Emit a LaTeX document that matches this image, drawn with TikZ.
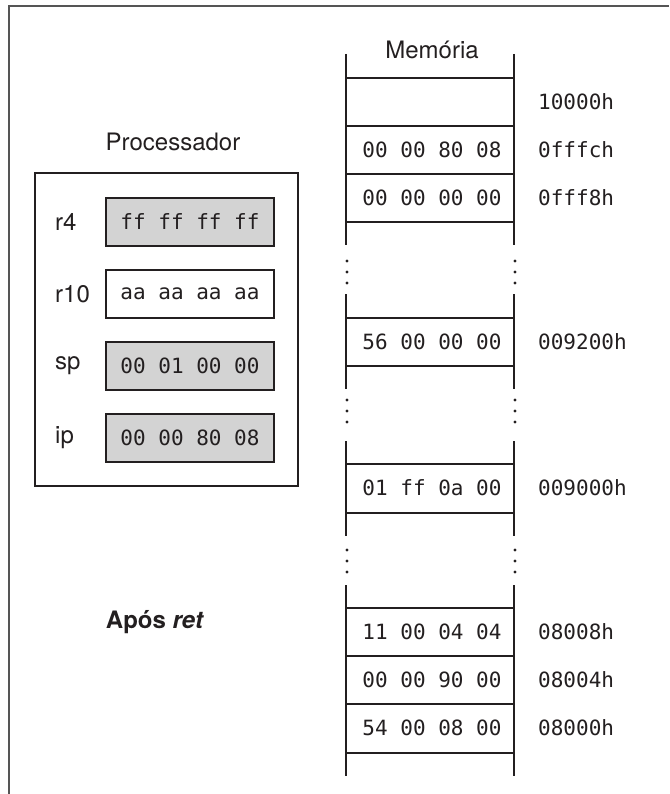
\documentclass[tikz,border=0pt]{standalone}
\usepackage{fontspec}
\setmainfont{TeX Gyre Heros}
\setmonofont{DejaVu Sans Mono}
\usepackage{tikz}
\usetikzlibrary{positioning}
\definecolor{linegray}{RGB}{35, 31, 32}
\definecolor{framegray}{RGB}{85, 85, 85}
\definecolor{regfill}{RGB}{211, 211, 211}

\tikzset{
    labeltext/.style={font=\fontsize{24}{28}\selectfont, text=linegray, inner sep=0pt},
    hextext/.style={font=\ttfamily\fontsize{21}{25}\selectfont, text=linegray, inner sep=0pt},
    regbox/.style={draw=linegray, line width=1.3pt, minimum width=168pt, minimum height=48pt, hextext},
    addrtext/.style={hextext, anchor=west},
}

\begin{document}
\begin{tikzpicture}[x=1pt, y=-1pt]
    \useasboundingbox (0,0) rectangle (669,794);
    % frame
    \draw[framegray, line width=1.2pt] (9,794) -- (9,6) -- (669,6);

    % processor
    \node[labeltext] (proc) at (173,142) {Processador};
    \draw[linegray, line width=1.6pt] (35,173) rectangle (298,486);
    \foreach \name/\val/\bg/\y in {r4/ff ff ff ff/regfill/222, r10/aa aa aa aa/white/294,
                                  sp/00 01 00 00/regfill/366, ip/00 00 80 08/regfill/438} {
        \node[regbox, fill=\bg] (reg-\name) at (190,\y) {\val};
        \node[labeltext, anchor=west] (lbl-\name) at (55,\y) {\name};
    }
    \node[labeltext] (after) at (155,622) {\bfseries Após \textit{ret}};

    % memory
    \node[labeltext] (mem) at (432,50) {Memória};
    \foreach \top/\bot in {54/245, 294/389, 441/536, 585/776}
        \draw[linegray, line width=1.8pt] (346,\top) -- (346,\bot) (514,\top) -- (514,\bot);
    \foreach \y in {78, 126, 174, 222, 318, 366, 464, 513, 608, 656, 704, 753}
        \draw[linegray, line width=1.5pt] (346,\y) -- (514,\y);
    \foreach \y in {261, 272, 283, 400, 411, 422, 550, 561, 572}
        \fill[linegray] (347,\y) circle[radius=1.6pt] (515,\y) circle[radius=1.6pt];
    \node[addrtext] (addr-10000h) at (538,102) {10000h};
    \foreach \y/\val/\addr in {150/00 00 80 08/0fffch, 198/00 00 00 00/0fff8h,
                               342/56 00 00 00/009200h, 488/01 ff 0a 00/009000h,
                               632/11 00 04 04/08008h, 680/00 00 90 00/08004h,
                               728/54 00 08 00/08000h} {
        \node[hextext] (cell-\addr) at (432,\y) {\val};
        \node[addrtext] (addr-\addr) at (538,\y) {\addr};
    }
\end{tikzpicture}
\end{document}
